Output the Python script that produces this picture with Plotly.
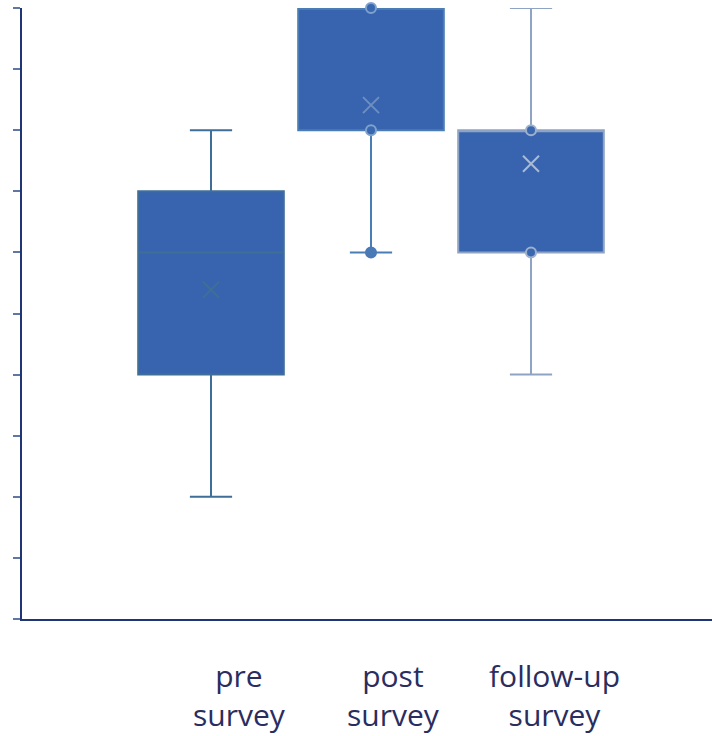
import plotly.graph_objects as go

# ---- data ----
categories = ["pre<br>survey", "post<br>survey", "follow-up<br>survey"]
box_pos = [0, 1, 2]
q1 = [4, 8, 6]
median = [6, 10, 8]
q3 = [7, 10, 8]
lower = [2, 6, 4]
upper = [8, 10, 10]
means = [5.39, 8.41, 7.45]
# visible data points (inner points) per box
points_x = [1, 1, 1, 2, 2]
points_y = [10, 8, 6, 8, 6]

fill = "#3864AF"
line_colors = ["#3F6E98", "#4A7DB4", "#8FA4C4"]
x_colors = ["#3F6E98", "#6C8FC0", "#AABBD6"]
dot_fill = ["#3A68B0", "#3A68B0", "#4A7AB6", "#3A68B0", "#3A68B0"]
dot_line = ["#7FA2CC", "#7FA2CC", "#4A7AB6", "#9DB1CE", "#9DB1CE"]
axis_color = "#1F3576"
label_shift = [0.18, 0.14, 0.145]  # horizontal offset of category labels (layout)

fig = go.Figure()
for i in range(3):
    fig.add_trace(go.Box(
        x=[box_pos[i]], q1=[q1[i]], median=[median[i]], q3=[q3[i]],
        lowerfence=[lower[i]], upperfence=[upper[i]],
        width=0.91, whiskerwidth=0.29,
        fillcolor=fill, line=dict(color=line_colors[i], width=2),
        boxpoints=False, showlegend=False, hoverinfo="skip",
    ))

fig.add_trace(go.Scatter(
    x=points_x, y=points_y, mode="markers", cliponaxis=False,
    marker=dict(size=10, color=dot_fill, line=dict(color=dot_line, width=2)),
    showlegend=False, hoverinfo="skip",
))
fig.add_trace(go.Scatter(
    x=box_pos, y=means, mode="markers", cliponaxis=False,
    marker=dict(symbol="x-thin", size=16, line=dict(color=x_colors, width=2)),
    showlegend=False, hoverinfo="skip",
))

for i, lab in enumerate(categories):
    fig.add_annotation(
        x=box_pos[i] + label_shift[i], y=0, xref="x", yref="y",
        text=lab, showarrow=False, yanchor="top", xanchor="center",
        yshift=-34, font=dict(family="Open Sans", size=30, color="#2A2D5E"),
    )

fig.update_layout(
    width=712, height=736,
    margin=dict(l=22, r=0, t=8, b=117),
    plot_bgcolor="white", paper_bgcolor="white",
    xaxis=dict(range=[-1.18125, 3.13125], showgrid=False, zeroline=False,
               showticklabels=False, ticks="", showline=True,
               linecolor=axis_color, linewidth=1.5),
    yaxis=dict(range=[0, 10], dtick=1, tick0=0, showgrid=False, zeroline=False,
               showticklabels=False, ticks="outside", ticklen=7,
               tickcolor="#5E78A3", tickwidth=1.5, showline=True,
               linecolor=axis_color, linewidth=1.5),
    boxmode="overlay",
)

fig.write_html("out.html", config={"displayModeBar": False},
               post_script="document.body.style.margin='0';document.body.style.overflow='hidden';")
